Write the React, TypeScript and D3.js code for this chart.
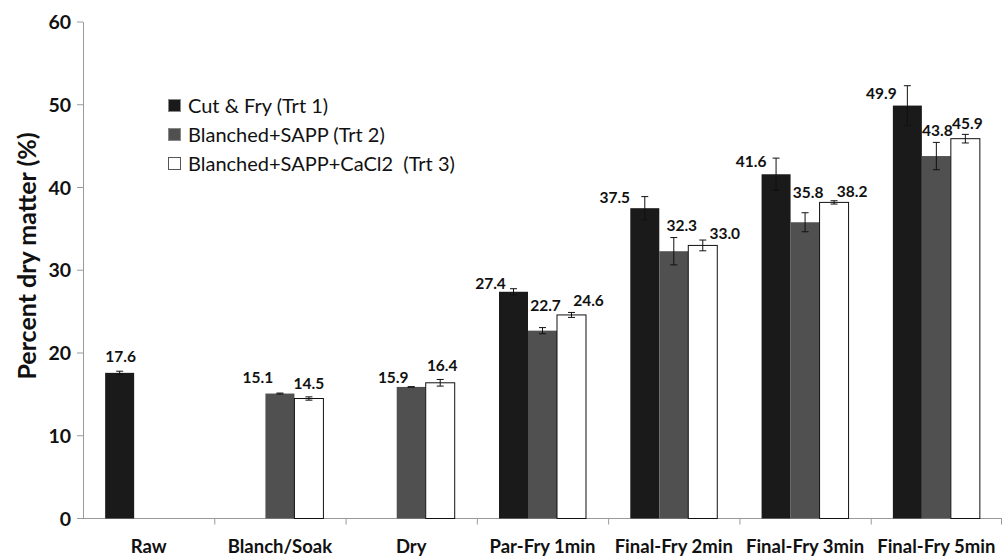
import React, { useEffect, useRef } from "react";
import * as d3 from "d3";

const categories = ["Raw", "Blanch/Soak", "Dry", "Par-Fry 1min", "Final-Fry 2min", "Final-Fry 3min", "Final-Fry 5min"];
const seriesNames = ["Cut & Fry (Trt 1)", "Blanched+SAPP (Trt 2)", "Blanched+SAPP+CaCl2  (Trt 3)"];
const trt1 = [17.6, null, null, 27.4, 37.5, 41.6, 49.9];
const trt2 = [null, 15.1, 15.9, 22.7, 32.3, 35.8, 43.8];
const trt3 = [null, 14.5, 16.4, 24.6, 33.0, 38.2, 45.9];
const err1 = [0.2, null, null, 0.37, 1.4, 1.95, 2.4];
const err2 = [null, 0.06, 0.03, 0.37, 1.65, 1.15, 1.65];
const err3 = [null, 0.2, 0.4, 0.3, 0.65, 0.2, 0.52];
const yTicks = [0, 10, 20, 30, 40, 50, 60];

// label nudges (layout, px): dx from bar centre, dy above bar top
const nudge1 = [[1, 16], null, null, [-23, 8.5], [-30, 11], [-25, 13], [-26, 12.6]];
const nudge2 = [null, [-22, 16.5], [-18, 10], [3, 25.7], [8, 26], [3, 29.6], [1, 25.4]];
const nudge3 = [null, [0, 15.5], [2, 17], [17, 15], [22, 12.4], [18, 10.7], [2, 15.4]];

const colors = ["#1a1a1a", "#505050", "#ffffff"];
const FONT = "Lato, 'Open Sans', sans-serif";

export default function App() {
  const ref = useRef<SVGSVGElement>(null);
  useEffect(() => {
    const svg = d3.select(ref.current);
    svg.selectAll("*").remove();
    const left = 83, right = 1002, top = 22, bottom = 518.5;
    const x0 = d3.scaleBand<string>().domain(categories).range([left, right]).padding(0);
    const x1 = d3.scaleBand<number>().domain([0, 1, 2]).range([0, x0.bandwidth()]).paddingInner(0).paddingOuter(0.764);
    const y = d3.scaleLinear().domain([0, 60]).range([bottom, top]);

    const g = svg.append("g");
    g.append("line").attr("x1", left + 0.5).attr("x2", left + 0.5).attr("y1", top).attr("y2", bottom)
      .attr("stroke", "#9a9a9a").attr("stroke-width", 1);
    g.append("line").attr("x1", left).attr("x2", right).attr("y1", bottom).attr("y2", bottom)
      .attr("stroke", "#9a9a9a").attr("stroke-width", 1);
    yTicks.forEach(t => {
      g.append("line").attr("x1", left - 6).attr("x2", left).attr("y1", y(t)).attr("y2", y(t))
        .attr("stroke", "#9a9a9a");
      g.append("text").attr("x", 71).attr("y", y(t)).attr("dy", "0.36em").attr("text-anchor", "end")
        .attr("font-family", FONT).attr("font-weight", 700).attr("font-size", 19.5).attr("fill", "#111")
        .text(String(t));
    });
    categories.forEach((c, i) => {
      const xs = (x0(c) as number);
      if (i > 0) g.append("line").attr("x1", xs + 0.5).attr("x2", xs + 0.5).attr("y1", bottom).attr("y2", bottom + 6).attr("stroke", "#9a9a9a");
      g.append("text").attr("x", xs + x0.bandwidth() / 2).attr("y", 546).attr("dy", "0.36em").attr("text-anchor", "middle")
        .attr("font-family", FONT).attr("font-weight", 700).attr("font-size", 18.5).attr("fill", "#111").text(c);
    });
    g.append("line").attr("x1", right - 0.5).attr("x2", right - 0.5).attr("y1", bottom).attr("y2", bottom + 6).attr("stroke", "#9a9a9a");

    g.append("text").attr("transform", `translate(27,256) rotate(-90)`).attr("text-anchor", "middle").attr("dy", "0.36em")
      .attr("font-family", FONT).attr("font-weight", 700).attr("font-size", 25).attr("fill", "#111")
      .text("Percent dry matter (%)");

    const vals = [trt1, trt2, trt3];
    const errs = [err1, err2, err3];
    const nudges = [nudge1, nudge2, nudge3];
    vals.forEach((arr, s) => {
      arr.forEach((v, i) => {
        if (v == null) return;
        const bx = (x0(categories[i]) as number) + (x1(s) as number);
        const bw = x1.bandwidth();
        g.append("rect").attr("x", bx).attr("y", y(v)).attr("width", bw).attr("height", bottom - y(v))
          .attr("fill", colors[s]).attr("stroke", s === 2 ? "#111" : "none").attr("stroke-width", 1);
        const e = errs[s][i] as number;
        const cx = bx + bw / 2;
        g.append("line").attr("x1", cx).attr("x2", cx).attr("y1", y(v + e)).attr("y2", y(v - e)).attr("stroke", "#111");
        [v + e, v - e].forEach(ev => g.append("line").attr("x1", cx - 3.5).attr("x2", cx + 3.5).attr("y1", y(ev)).attr("y2", y(ev)).attr("stroke", "#111"));
        const n = nudges[s][i] as number[];
        g.append("text").attr("x", cx + n[0]).attr("y", y(v) - n[1]).attr("dy", "0.36em").attr("text-anchor", "middle")
          .attr("font-family", FONT).attr("font-weight", 700).attr("font-size", 15.5).attr("fill", "#111")
          .text(v.toFixed(1));
      });
    });

    const ly = [106, 135, 164];
    seriesNames.forEach((name, s) => {
      g.append("rect").attr("x", 168.5).attr("y", ly[s] - 6.5).attr("width", 12).attr("height", 12)
        .attr("fill", colors[s]).attr("stroke", s === 2 ? "#555" : "#888").attr("stroke-width", 1);
      g.append("text").attr("x", 188).attr("y", ly[s]).attr("dy", "0.36em")
        .attr("font-family", FONT).attr("font-size", 20).attr("fill", "#111")
        .style("white-space", "pre").text(name);
    });
  }, []);
  return (
    <svg ref={ref} width={1002} height={556} style={{ position: "absolute", left: 0, top: 0, background: "#fff" }} />
  );
}
